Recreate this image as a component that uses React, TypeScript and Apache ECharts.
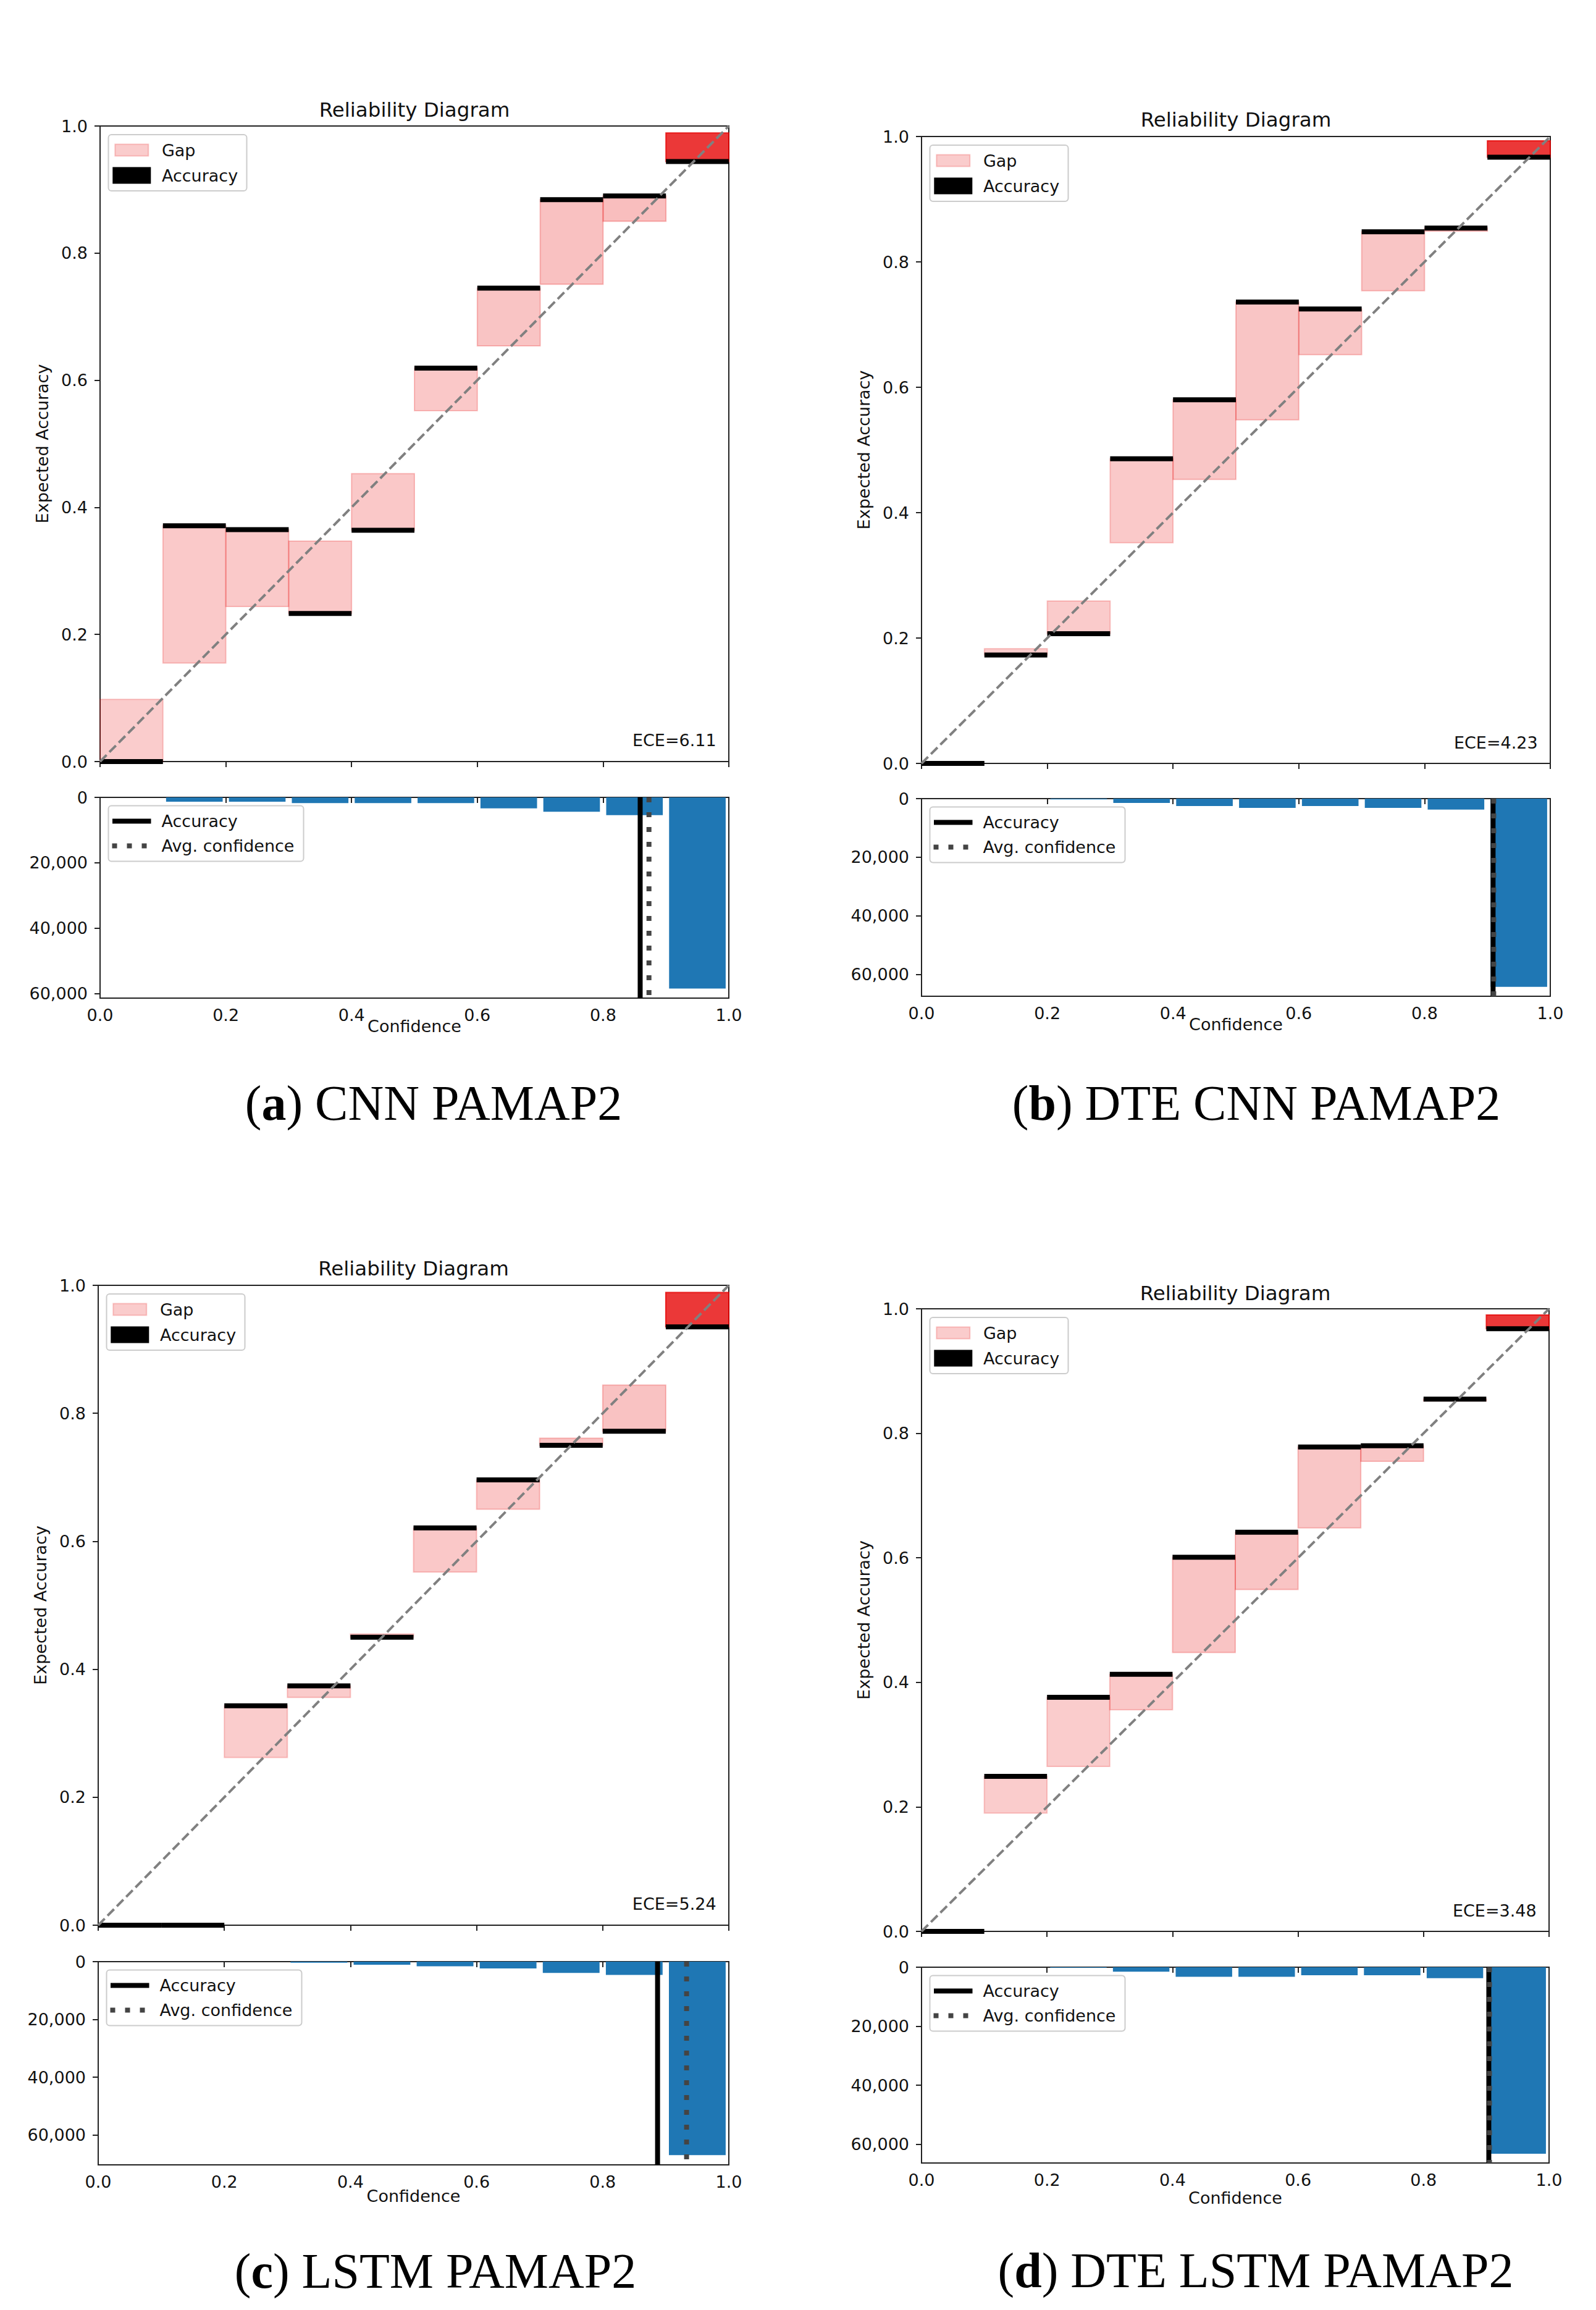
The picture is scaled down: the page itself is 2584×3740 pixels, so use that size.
import React, { useEffect, useRef } from "react";
import * as echarts from "echarts";

// ---------- data ----------
const BIN_EDGES = [0, 0.1, 0.2, 0.3, 0.4, 0.5, 0.6, 0.7, 0.8, 0.9, 1.0];
const BIN_CENTERS = [0.05, 0.15, 0.25, 0.35, 0.45, 0.55, 0.65, 0.75, 0.85, 0.95];
const PROB_TICKS = [0, 0.2, 0.4, 0.6, 0.8, 1.0];
const COUNT_TICKS = [0, 20000, 40000, 60000];

const ACC_A = [0.0, 0.371, 0.365, 0.233, 0.364, 0.619, 0.745, 0.884, 0.89, 0.944];
const CONF_A = [0.098, 0.155, 0.244, 0.347, 0.453, 0.552, 0.654, 0.751, 0.85, 0.989];
const COUNT_A = [0, 1320, 1320, 1760, 1760, 1760, 3340, 4410, 5420, 58440];

const ACC_B = [0.0, 0.173, 0.207, 0.486, 0.58, 0.736, 0.725, 0.848, 0.854, 0.967];
const CONF_B = [0.0, 0.183, 0.259, 0.352, 0.453, 0.548, 0.652, 0.754, 0.849, 0.993];
const COUNT_B = [0, 60, 250, 1470, 2520, 3150, 2520, 3150, 3720, 64300];

const ACC_C = [0.0, 0.0, 0.343, 0.374, 0.45, 0.621, 0.696, 0.75, 0.772, 0.935];
const CONF_C = [0.0, 0.0, 0.262, 0.356, 0.455, 0.552, 0.65, 0.761, 0.844, 0.989];
const COUNT_C = [0, 0, 40, 350, 1070, 1630, 2350, 3900, 4620, 67020];

const ACC_D = [0.0, 0.249, 0.376, 0.413, 0.601, 0.641, 0.778, 0.78, 0.855, 0.968];
const CONF_D = [0.0, 0.19, 0.265, 0.356, 0.448, 0.549, 0.648, 0.755, 0.852, 0.99];
const COUNT_D = [0, 60, 150, 1520, 3250, 3250, 2700, 2700, 3730, 63200];

const AVG_ACC = [0.859, 0.909, 0.887, 0.904];
const AVG_CONF = [0.873, 0.91, 0.933, 0.905];
const ECE_LABELS = ["ECE=6.11", "ECE=4.23", "ECE=5.24", "ECE=3.48"];
const CAPTION_LETTERS = ["a", "b", "c", "d"];
const CAPTION_TEXTS = ["CNN PAMAP2", "DTE CNN PAMAP2", "LSTM PAMAP2", "DTE LSTM PAMAP2"];
const TITLE = "Reliability Diagram";
const Y_LABEL = "Expected Accuracy";
const X_LABEL = "Confidence";
const LEGEND_REL = ["Gap", "Accuracy"];
const LEGEND_HIST = ["Accuracy", "Avg. confidence"];

const PANELS = [
  { acc: ACC_A, conf: CONF_A, counts: COUNT_A },
  { acc: ACC_B, conf: CONF_B, counts: COUNT_B },
  { acc: ACC_C, conf: CONF_C, counts: COUNT_C },
  { acc: ACC_D, conf: CONF_D, counts: COUNT_D },
];

// ---------- layout (pixels) ----------
const LAYOUT = [
  { rel: [162, 204, 1018, 1029], hist: [162, 1291, 1018, 325], titleY: 178, xlabelY: 1661, capX: 702, capY: 1786 },
  { rel: [1492, 221, 1018, 1015], hist: [1492, 1293, 1018, 320], titleY: 194, xlabelY: 1658, capX: 2034, capY: 1786 },
  { rel: [159, 2081, 1021, 1036], hist: [159, 3176, 1021, 329], titleY: 2054, xlabelY: 3555, capX: 705, capY: 3677 },
  { rel: [1492, 2119, 1016, 1008], hist: [1492, 3185, 1016, 317], titleY: 2094, xlabelY: 3558, capX: 2033, capY: 3676 },
];

const FONT = "DejaVu Sans";
const SERIF = "Liberation Serif";
const SMALL = 27;
const TEXT_COLOR = "#111";
const SPINE = "#222";
const GAP_RGB = "230,0,0";
const BAR_BLUE = "#1f77b4";

function txt(x: number, y: number, text: string, opts: any = {}) {
  const align = opts.align || "left";
  const va = opts.va || "middle";
  return {
    type: "text",
    x,
    y,
    rotation: opts.rotation || 0,
    silent: true,
    z: 100,
    style: {
      text,
      fontFamily: opts.fontFamily || FONT,
      fontSize: opts.fontSize || SMALL,
      fontWeight: opts.fontWeight || "normal",
      fill: opts.fill || TEXT_COLOR,
      align,
      verticalAlign: va,
      textAlign: align,
      textVerticalAlign: va,
      rich: opts.rich,
    },
  };
}

function buildOption() {
  const grid: any[] = [];
  const xAxis: any[] = [];
  const yAxis: any[] = [];
  const series: any[] = [];
  const graphic: any[] = [];

  const tickStyle = { show: true, inside: false, length: 9, lineStyle: { color: SPINE, width: 2 } };
  const labelBase = { fontFamily: FONT, fontSize: SMALL, color: TEXT_COLOR };

  PANELS.forEach((p, i) => {
    const L = LAYOUT[i];
    const relIdx = 2 * i;
    const histIdx = 2 * i + 1;
    const maxCount = Math.max(...p.counts);
    const countMax = maxCount * 1.05;

    grid.push({
      left: L.rel[0], top: L.rel[1], width: L.rel[2], height: L.rel[3],
      show: true, borderColor: SPINE, borderWidth: 2, backgroundColor: "transparent",
    });
    grid.push({
      left: L.hist[0], top: L.hist[1], width: L.hist[2], height: L.hist[3],
      show: true, borderColor: SPINE, borderWidth: 2, backgroundColor: "transparent",
    });

    xAxis.push({
      gridIndex: relIdx, type: "value", min: 0, max: 1, interval: 0.2,
      axisLine: { show: false }, axisTick: tickStyle, axisLabel: { show: false }, splitLine: { show: false },
    });
    yAxis.push({
      gridIndex: relIdx, type: "value", min: 0, max: 1, interval: 0.2,
      axisLine: { show: false }, axisTick: tickStyle, splitLine: { show: false },
      axisLabel: { ...labelBase, margin: 20, formatter: (v: number) => v.toFixed(1) },
    });
    xAxis.push({
      gridIndex: histIdx, type: "value", min: 0, max: 1, interval: 0.2,
      axisLine: { show: false }, axisTick: tickStyle, splitLine: { show: false },
      axisLabel: { ...labelBase, margin: 14, formatter: (v: number) => v.toFixed(1) },
    });
    yAxis.push({
      gridIndex: histIdx, type: "value", inverse: true, min: 0, max: countMax,
      axisLine: { show: false }, splitLine: { show: false },
      axisTick: { ...tickStyle, customValues: COUNT_TICKS },
      axisLabel: {
        ...labelBase, margin: 20, customValues: COUNT_TICKS,
        formatter: (v: number) => (v === 0 ? "0" : Math.round(v).toLocaleString("en-US")),
      },
    });

    // gap bars
    series.push({
      type: "custom", xAxisIndex: relIdx, yAxisIndex: relIdx, z: 2, silent: true, clip: false,
      data: p.acc.map((a, j) => [BIN_EDGES[j], BIN_EDGES[j + 1], p.conf[j], a, p.counts[j]]),
      renderItem: (params: any, api: any) => {
        const p0 = api.coord([api.value(0), api.value(2)]);
        const p1 = api.coord([api.value(1), api.value(3)]);
        const alpha = 0.2 + 0.58 * (api.value(4) / maxCount);
        const h = Math.abs(p1[1] - p0[1]);
        if (h < 0.5) return { type: "group", children: [] };
        const col = `rgba(${GAP_RGB},${alpha.toFixed(3)})`;
        return {
          type: "rect",
          shape: { x: Math.min(p0[0], p1[0]), y: Math.min(p0[1], p1[1]), width: Math.abs(p1[0] - p0[0]), height: h },
          style: { fill: col, stroke: col, lineWidth: 2 },
        };
      },
    });
    // accuracy lines
    series.push({
      type: "custom", xAxisIndex: relIdx, yAxisIndex: relIdx, z: 3, silent: true, clip: false,
      data: p.acc.map((a, j) => [BIN_EDGES[j], BIN_EDGES[j + 1], a]),
      renderItem: (params: any, api: any) => {
        const p0 = api.coord([api.value(0), api.value(2)]);
        const p1 = api.coord([api.value(1), api.value(2)]);
        return {
          type: "rect",
          shape: { x: p0[0], y: p0[1] - 4, width: p1[0] - p0[0], height: 8 },
          style: { fill: "#000" },
        };
      },
    });
    // diagonal
    series.push({
      type: "line", xAxisIndex: relIdx, yAxisIndex: relIdx, z: 4, silent: true,
      data: [[0, 0], [1, 1]], symbol: "none", showSymbol: false,
      lineStyle: { color: "#808080", width: 4, type: [15, 6.5] },
    });
    // histogram bars
    series.push({
      type: "custom", xAxisIndex: histIdx, yAxisIndex: histIdx, z: 2, silent: true,
      data: BIN_CENTERS.map((c, j) => [c, p.counts[j]]),
      renderItem: (params: any, api: any) => {
        const c = api.value(0);
        const p0 = api.coord([c - 0.045, 0]);
        const p1 = api.coord([c + 0.045, api.value(1)]);
        const h = Math.abs(p1[1] - p0[1]);
        if (h < 0.3) return { type: "group", children: [] };
        return {
          type: "rect",
          shape: { x: p0[0], y: Math.min(p0[1], p1[1]), width: p1[0] - p0[0], height: Math.max(h, 1) },
          style: { fill: BAR_BLUE },
        };
      },
    });
    // avg accuracy / avg confidence lines
    series.push({
      type: "line", xAxisIndex: histIdx, yAxisIndex: histIdx, z: 5, silent: true,
      data: [[AVG_ACC[i], 0], [AVG_ACC[i], countMax]], symbol: "none", showSymbol: false,
      lineStyle: { color: "#000", width: 8 },
    });
    series.push({
      type: "line", xAxisIndex: histIdx, yAxisIndex: histIdx, z: 6, silent: true,
      data: [[AVG_CONF[i], 0], [AVG_CONF[i], countMax]], symbol: "none", showSymbol: false,
      lineStyle: { color: "#444", width: 8, type: [8, 16], cap: "butt" },
    });

    // texts
    const [rl, rt, rw, rh] = L.rel;
    const [hl, ht, hw] = L.hist;
    graphic.push(txt(rl + rw / 2, L.titleY, TITLE, { align: "center", fontSize: 32.5 }));
    graphic.push(txt(rl - 94, rt + rh / 2, Y_LABEL, { align: "center", rotation: Math.PI / 2 }));
    graphic.push(txt(rl + rw * 0.98, rt + rh * 0.98, ECE_LABELS[i], { align: "right", va: "bottom" }));
    graphic.push(txt(hl + hw / 2, L.xlabelY, X_LABEL, { align: "center" }));
    graphic.push(
      txt(L.capX, L.capY, `({b|${CAPTION_LETTERS[i]}}) ${CAPTION_TEXTS[i]}`, {
        align: "center", fontFamily: SERIF, fontSize: 80, fill: "#000",
        rich: { b: { fontFamily: SERIF, fontSize: 80, fontWeight: "bold", fill: "#000" } },
      })
    );

    // reliability legend
    const bx = rl + 13.5;
    const by = rt + 14;
    graphic.push({
      type: "rect", silent: true, z: 90,
      shape: { x: bx, y: by, width: 224, height: 91, r: 5 },
      style: { fill: "rgba(255,255,255,0.8)", stroke: "#cccccc", lineWidth: 2 },
    });
    graphic.push({
      type: "rect", silent: true, z: 91,
      shape: { x: bx + 10.8, y: by + 25 - 9.5, width: 54, height: 19 },
      style: { fill: `rgba(${GAP_RGB},0.2)`, stroke: `rgba(${GAP_RGB},0.2)`, lineWidth: 2 },
    });
    graphic.push({
      type: "rect", silent: true, z: 91,
      shape: { x: bx + 6.8, y: by + 66 - 13.5, width: 62, height: 27 },
      style: { fill: "#000" },
    });
    graphic.push(txt(bx + 86.4, by + 25, LEGEND_REL[0]));
    graphic.push(txt(bx + 86.4, by + 66, LEGEND_REL[1]));

    // histogram legend
    const hx = hl + 13.5;
    const hy = ht + 13.5;
    graphic.push({
      type: "rect", silent: true, z: 90,
      shape: { x: hx, y: hy, width: 316, height: 90, r: 5 },
      style: { fill: "rgba(255,255,255,0.8)", stroke: "#cccccc", lineWidth: 2 },
    });
    graphic.push({
      type: "line", silent: true, z: 91,
      shape: { x1: hx + 6.5, y1: hy + 25, x2: hx + 69, y2: hy + 25 },
      style: { stroke: "#000", lineWidth: 8 },
    });
    graphic.push({
      type: "line", silent: true, z: 91,
      shape: { x1: hx + 6, y1: hy + 65, x2: hx + 66, y2: hy + 65 },
      style: { stroke: "#444", lineWidth: 8, lineDash: [8, 16] },
    });
    graphic.push(txt(hx + 86, hy + 25, LEGEND_HIST[0]));
    graphic.push(txt(hx + 86, hy + 65, LEGEND_HIST[1]));
  });

  return {
    animation: false,
    backgroundColor: "#ffffff",
    grid,
    xAxis,
    yAxis,
    series,
    graphic: { elements: graphic },
  };
}

export default function App() {
  const ref = useRef<HTMLDivElement>(null);
  useEffect(() => {
    document.body.style.margin = "0";
    const chart = echarts.init(ref.current as HTMLDivElement, null, { renderer: "svg" });
    chart.setOption(buildOption() as any);
    return () => chart.dispose();
  }, []);
  return <div ref={ref} style={{ width: 2584, height: 3740, background: "#fff" }} />;
}
